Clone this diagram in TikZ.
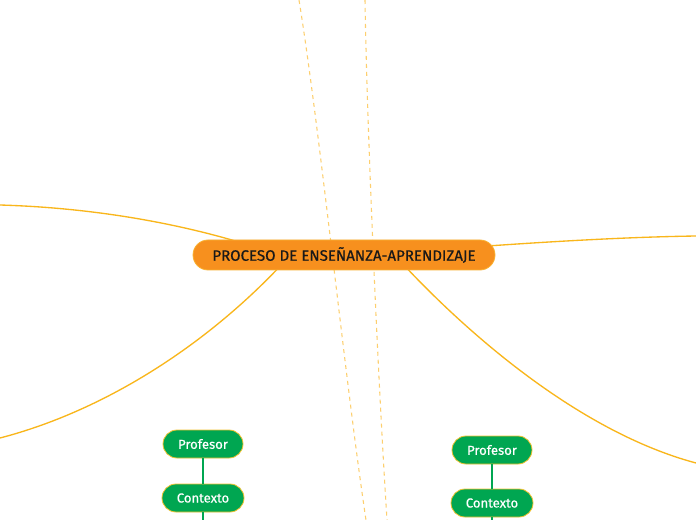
\documentclass[tikz,border=0pt]{standalone}
\usepackage{fontspec}
\setmainfont{Fira Sans}
\newfontfamily\medfont{Fira Sans}[FakeBold=0.6]
\usetikzlibrary{calc,backgrounds}
\definecolor{mainorange}{HTML}{F7901E}
\definecolor{mainborder}{HTML}{F9B233}
\definecolor{branch}{HTML}{F9B61B}
\definecolor{dashcol}{HTML}{FDCF6E}
\definecolor{subgreen}{HTML}{00A651}
\definecolor{subborder}{HTML}{F2C230}
\definecolor{greenline}{HTML}{00A651}
\tikzset{
  mainbox/.style={draw=mainborder, line width=0.6pt, fill=mainorange, rounded corners=11.25pt,
    minimum width=226.5pt, minimum height=22.5pt, inner sep=0pt,
    font=\medfont\fontsize{11.3}{12}\selectfont, text=black!90},
  subbox/.style={draw=subborder, line width=0.6pt, fill=subgreen, rounded corners=10.5pt,
    minimum width=60pt, minimum height=21pt, inner sep=0pt,
    font=\medfont\fontsize{9.8}{11}\selectfont, text=white},
  branchline/.style={draw=branch, line width=1pt},
  dashline/.style={draw=dashcol, line width=0.8pt, dash pattern=on 3pt off 3pt},
  subline/.style={draw=greenline, line width=0.9pt}
}
\begin{document}
\begin{tikzpicture}[x=0.75pt,y=-0.75pt]
\useasboundingbox (0,0) rectangle (696,520);
% dashed guide lines
\coordinate (d1a) at (299,0);
\coordinate (d1b) at (366,520);
\coordinate (d2a) at (365,0);
\coordinate (d2b) at (387,520);
% main node
\node[mainbox] (c) at (344,255) {PROCESO DE ENSEÑANZA-APRENDIZAJE};
% free ends
\coordinate (e1) at (0,205);
\coordinate (e2) at (696,236);
\coordinate (e3) at (0,438);
\coordinate (e4) at (696,463);
\begin{scope}[on background layer]
\fill[white] (0,0) rectangle (696,520);
\draw[dashline] (d1a) .. controls (320,130) and (345,380) .. (d1b);
\draw[dashline] (d2a) .. controls (367,130) and (378,380) .. (d2b);
\draw[branchline] ($(c.north)+(-110,1)$) .. controls (180,225) and (100,208) .. (e1);
\draw[branchline] ($(c.east)+(-8,-9)$) .. controls (560,241) and (630,237) .. (e2);
\draw[branchline] ($(c.south)+(-66,-2)$) .. controls (200,350) and (100,412) .. (e3);
\draw[branchline] ($(c.south)+(63,-2)$) .. controls (470,335) and (580,432) .. (e4);
\end{scope}
% sub nodes
\node[subbox] (p1) at (203,444) {Profesor};
\node[subbox, minimum width=61.5pt] (k1) at (203,498) {Contexto};
\node[subbox] (p2) at (492,450) {Profesor};
\node[subbox, minimum width=61.5pt] (k2) at (492,503) {Contexto};
\coordinate (k1e) at (203,520);
\coordinate (k2e) at (492,520);
\draw[subline] (p1) -- (k1);
\draw[subline] (k1) -- (k1e);
\draw[subline] (p2) -- (k2);
\draw[subline] (k2) -- (k2e);
\end{tikzpicture}
\end{document}
